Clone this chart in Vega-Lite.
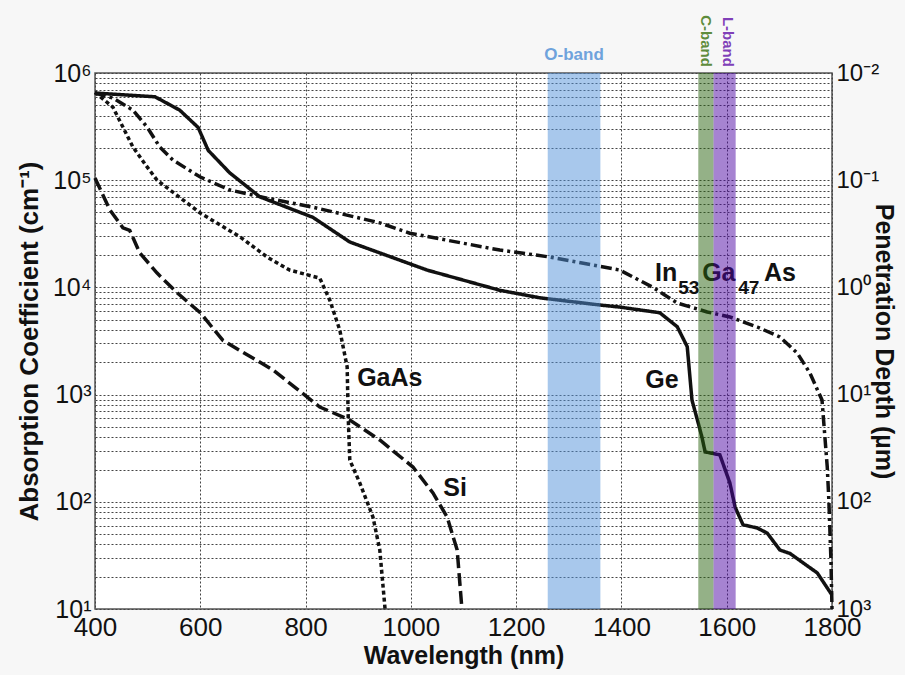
{
  "$schema": "https://vega.github.io/schema/vega-lite/v6.json",
  "width": 737,
  "height": 536,
  "autosize": {"type": "none"},
  "padding": {"left": 95, "top": 73, "right": 73, "bottom": 66},
  "background": "#f7f7f7",
  "config": {
    "view": {"fill": "white", "stroke": "#555", "strokeWidth": 1.5},
    "text": {"font": "Liberation Sans"}
  },
  "datasets": {
    "curves": [
      {"m": "Ge", "wl": 400, "a": 650000}, {"m": "Ge", "wl": 514, "a": 600000}, {"m": "Ge", "wl": 561, "a": 450000},
      {"m": "Ge", "wl": 596, "a": 310000}, {"m": "Ge", "wl": 615, "a": 190000}, {"m": "Ge", "wl": 656, "a": 117000},
      {"m": "Ge", "wl": 713, "a": 70000}, {"m": "Ge", "wl": 814, "a": 45000}, {"m": "Ge", "wl": 884, "a": 26500},
      {"m": "Ge", "wl": 1031, "a": 14500}, {"m": "Ge", "wl": 1169, "a": 9400}, {"m": "Ge", "wl": 1245, "a": 8000},
      {"m": "Ge", "wl": 1359, "a": 6850}, {"m": "Ge", "wl": 1397, "a": 6550}, {"m": "Ge", "wl": 1473, "a": 5800},
      {"m": "Ge", "wl": 1506, "a": 4300}, {"m": "Ge", "wl": 1525, "a": 2800}, {"m": "Ge", "wl": 1534, "a": 890},
      {"m": "Ge", "wl": 1546, "a": 540}, {"m": "Ge", "wl": 1553, "a": 400}, {"m": "Ge", "wl": 1559, "a": 292},
      {"m": "Ge", "wl": 1587, "a": 274}, {"m": "Ge", "wl": 1606, "a": 150}, {"m": "Ge", "wl": 1616, "a": 89},
      {"m": "Ge", "wl": 1631, "a": 61}, {"m": "Ge", "wl": 1658, "a": 57}, {"m": "Ge", "wl": 1677, "a": 51},
      {"m": "Ge", "wl": 1701, "a": 35.5}, {"m": "Ge", "wl": 1720, "a": 33}, {"m": "Ge", "wl": 1772, "a": 21.7},
      {"m": "Ge", "wl": 1800, "a": 13.5},

      {"m": "InGaAs", "wl": 400, "a": 650000}, {"m": "InGaAs", "wl": 434, "a": 584000}, {"m": "InGaAs", "wl": 472, "a": 450000},
      {"m": "InGaAs", "wl": 499, "a": 313000}, {"m": "InGaAs", "wl": 523, "a": 204000}, {"m": "InGaAs", "wl": 548, "a": 154000},
      {"m": "InGaAs", "wl": 600, "a": 107000}, {"m": "InGaAs", "wl": 656, "a": 81000}, {"m": "InGaAs", "wl": 727, "a": 68000},
      {"m": "InGaAs", "wl": 814, "a": 56000}, {"m": "InGaAs", "wl": 941, "a": 40000}, {"m": "InGaAs", "wl": 998, "a": 32000},
      {"m": "InGaAs", "wl": 1169, "a": 22300}, {"m": "InGaAs", "wl": 1264, "a": 19200}, {"m": "InGaAs", "wl": 1397, "a": 14500},
      {"m": "InGaAs", "wl": 1460, "a": 10000}, {"m": "InGaAs", "wl": 1506, "a": 7150}, {"m": "InGaAs", "wl": 1563, "a": 5900},
      {"m": "InGaAs", "wl": 1606, "a": 5300}, {"m": "InGaAs", "wl": 1658, "a": 4270}, {"m": "InGaAs", "wl": 1701, "a": 3450},
      {"m": "InGaAs", "wl": 1734, "a": 2440}, {"m": "InGaAs", "wl": 1758, "a": 1590}, {"m": "InGaAs", "wl": 1781, "a": 890},
      {"m": "InGaAs", "wl": 1791, "a": 211}, {"m": "InGaAs", "wl": 1794, "a": 104}, {"m": "InGaAs", "wl": 1798, "a": 28.6},
      {"m": "InGaAs", "wl": 1800, "a": 10},

      {"m": "GaAs", "wl": 400, "a": 660000}, {"m": "GaAs", "wl": 434, "a": 480000}, {"m": "GaAs", "wl": 453, "a": 313000},
      {"m": "GaAs", "wl": 472, "a": 204000}, {"m": "GaAs", "wl": 499, "a": 133000}, {"m": "GaAs", "wl": 518, "a": 100000},
      {"m": "GaAs", "wl": 600, "a": 49400}, {"m": "GaAs", "wl": 676, "a": 29500}, {"m": "GaAs", "wl": 727, "a": 19200},
      {"m": "GaAs", "wl": 770, "a": 14500}, {"m": "GaAs", "wl": 827, "a": 12200}, {"m": "GaAs", "wl": 846, "a": 7600},
      {"m": "GaAs", "wl": 865, "a": 4000}, {"m": "GaAs", "wl": 879, "a": 1810}, {"m": "GaAs", "wl": 881, "a": 618},
      {"m": "GaAs", "wl": 884, "a": 245}, {"m": "GaAs", "wl": 903, "a": 150}, {"m": "GaAs", "wl": 928, "a": 72},
      {"m": "GaAs", "wl": 941, "a": 35.5}, {"m": "GaAs", "wl": 951, "a": 10},

      {"m": "Si", "wl": 400, "a": 105000}, {"m": "Si", "wl": 428, "a": 53000}, {"m": "Si", "wl": 453, "a": 36000},
      {"m": "Si", "wl": 466, "a": 34000}, {"m": "Si", "wl": 485, "a": 21000}, {"m": "Si", "wl": 518, "a": 13600},
      {"m": "Si", "wl": 556, "a": 8900}, {"m": "Si", "wl": 600, "a": 5800}, {"m": "Si", "wl": 643, "a": 3200},
      {"m": "Si", "wl": 738, "a": 1700}, {"m": "Si", "wl": 827, "a": 766}, {"m": "Si", "wl": 884, "a": 580},
      {"m": "Si", "wl": 941, "a": 377}, {"m": "Si", "wl": 1004, "a": 211}, {"m": "Si", "wl": 1042, "a": 121},
      {"m": "Si", "wl": 1069, "a": 72}, {"m": "Si", "wl": 1088, "a": 35.5}, {"m": "Si", "wl": 1097, "a": 10}
    ],
    "names": [
      {"label": "GaAs", "wl": 960, "a": 1430},
      {"label": "Si", "wl": 1084, "a": 135},
      {"label": "Ge", "wl": 1477, "a": 1368},
      {"label": "In", "wl": 1485, "a": 13600},
      {"label": "Ga", "wl": 1585, "a": 13600},
      {"label": "As", "wl": 1701, "a": 13600}
    ],
    "subs": [
      {"label": "53", "wl": 1528, "a": 9900},
      {"label": "47", "wl": 1642, "a": 9900}
    ],
    "bands": [
      {"band": "O-band", "start": 1260, "end": 1360},
      {"band": "C-band", "start": 1546, "end": 1575},
      {"band": "L-band", "start": 1575, "end": 1617}
    ],
    "bandTop": [
      {"band": "O-band", "wl": 1310, "a": 1470000}
    ],
    "bandSide": [
      {"band": "C-band", "wl": 1561, "a": 1140000},
      {"band": "L-band", "wl": 1602, "a": 1140000}
    ]
  },
  "layer": [
    {
      "data": {"name": "curves"},
      "mark": {"type": "line", "strokeWidth": 3.5, "color": "#111", "strokeCap": "butt"},
      "encoding": {
        "x": {
          "field": "wl", "type": "quantitative",
          "scale": {"domain": [400, 1800], "nice": false, "zero": false},
          "axis": {
            "values": [400, 600, 800, 1000, 1200, 1400, 1600, 1800],
            "format": "d",
            "grid": true, "gridDash": [2, 2], "gridColor": "#444", "gridWidth": 1,
            "domain": false, "ticks": false,
            "labelFont": "Liberation Sans", "labelFontSize": 26, "labelColor": "#111",
            "labelPadding": 5, "labelFlush": false, "labelOverlap": false,
            "title": "Wavelength (nm)", "titleFont": "Liberation Sans", "titleFontSize": 25,
            "titleFontWeight": "bold", "titleColor": "#111", "titlePadding": 3
          }
        },
        "y": {
          "field": "a", "type": "quantitative",
          "scale": {"type": "log", "domain": [10, 1000000], "nice": false},
          "axis": {
            "orient": "left",
            "values": [10, 20, 30, 40, 50, 60, 70, 80, 90,
                       100, 200, 300, 400, 500, 600, 700, 800, 900,
                       1000, 2000, 3000, 4000, 5000, 6000, 7000, 8000, 9000,
                       10000, 20000, 30000, 40000, 50000, 60000, 70000, 80000, 90000,
                       100000, 200000, 300000, 400000, 500000, 600000, 700000, 800000, 900000,
                       1000000],
            "labelExpr": "datum.value == 1000000 ? '10⁶' : datum.value == 100000 ? '10⁵' : datum.value == 10000 ? '10⁴' : datum.value == 1000 ? '10³' : datum.value == 100 ? '10²' : datum.value == 10 ? '10¹' : ''",
            "grid": true, "gridDash": [2, 2], "gridColor": "#444", "gridWidth": 1,
            "domain": false, "ticks": false,
            "labelFont": "Liberation Sans", "labelFontSize": 25, "labelColor": "#111",
            "labelPadding": 4, "labelFlush": false, "labelOverlap": false,
            "title": "Absorption Coefficient (cm⁻¹)", "titleFont": "Liberation Sans", "titleFontSize": 26,
            "titleFontWeight": "bold", "titleColor": "#111", "titlePadding": 10
          }
        },
        "strokeDash": {
          "field": "m", "type": "nominal",
          "scale": {"domain": ["Ge", "InGaAs", "GaAs", "Si"], "range": [[1, 0], [11, 4, 3, 4], [4, 3], [13, 5]]},
          "legend": null
        },
        "detail": {"field": "m"}
      }
    },
    {
      "data": {"name": "names"},
      "mark": {"type": "text", "font": "Liberation Sans", "fontSize": 25, "fontWeight": "bold", "color": "#111", "baseline": "middle", "align": "center"},
      "encoding": {
        "x": {"field": "wl", "type": "quantitative"},
        "y": {
          "field": "a", "type": "quantitative",
          "axis": {
            "orient": "right",
            "values": [10, 100, 1000, 10000, 100000, 1000000],
            "labelExpr": "datum.value == 1000000 ? '10⁻²' : datum.value == 100000 ? '10⁻¹' : datum.value == 10000 ? '10⁰' : datum.value == 1000 ? '10¹' : datum.value == 100 ? '10²' : '10³'",
            "grid": false, "domain": false, "ticks": false,
            "labelFont": "Liberation Sans", "labelFontSize": 24, "labelColor": "#111",
            "labelPadding": 4, "labelFlush": false, "labelOverlap": false,
            "title": "Penetration Depth (µm)", "titleFont": "Liberation Sans", "titleFontSize": 25,
            "titleFontWeight": "bold", "titleColor": "#111", "titlePadding": -8
          }
        },
        "text": {"field": "label"}
      }
    },
    {
      "data": {"name": "subs"},
      "mark": {"type": "text", "font": "Liberation Sans", "fontSize": 19, "fontWeight": "bold", "color": "#111", "baseline": "middle", "align": "center"},
      "encoding": {
        "x": {"field": "wl", "type": "quantitative"},
        "y": {"field": "a", "type": "quantitative", "axis": null},
        "text": {"field": "label"}
      }
    },
    {
      "data": {"name": "bands"},
      "mark": {"type": "rect", "opacity": 0.5},
      "encoding": {
        "x": {"field": "start", "type": "quantitative"},
        "x2": {"field": "end"},
        "fill": {
          "field": "band", "type": "nominal",
          "scale": {"domain": ["O-band", "C-band", "L-band"], "range": ["#5191d9", "#2a6310", "#4d08a3"]},
          "legend": null
        }
      }
    },
    {
      "data": {"name": "bandTop"},
      "mark": {"type": "text", "font": "Liberation Sans", "fontSize": 17, "fontWeight": "bold", "baseline": "middle", "align": "center", "color": "#6fa3dc"},
      "encoding": {
        "x": {"field": "wl", "type": "quantitative"},
        "y": {"field": "a", "type": "quantitative", "axis": null},
        "text": {"field": "band"}
      }
    },
    {
      "data": {"name": "bandSide"},
      "mark": {"type": "text", "font": "Liberation Sans", "fontSize": 15, "fontWeight": "bold", "angle": 90, "baseline": "middle", "align": "right"},
      "encoding": {
        "x": {"field": "wl", "type": "quantitative"},
        "y": {"field": "a", "type": "quantitative", "axis": null},
        "text": {"field": "band"},
        "color": {
          "field": "band", "type": "nominal",
          "scale": {"domain": ["C-band", "L-band"], "range": ["#5e8c3c", "#8040b8"]},
          "legend": null
        }
      }
    }
  ],
  "resolve": {"axis": {"y": "independent"}}
}
